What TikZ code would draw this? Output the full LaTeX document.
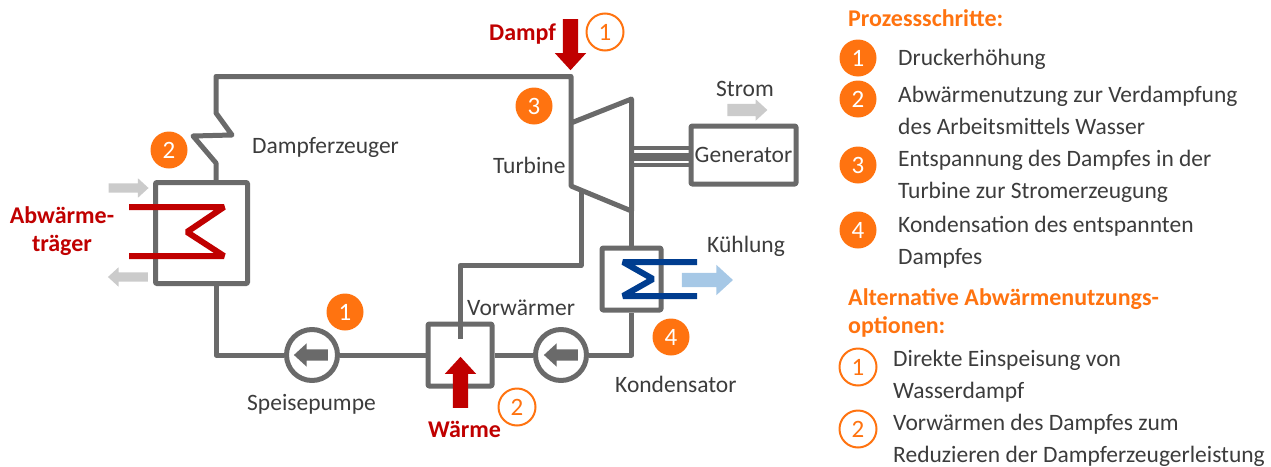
\documentclass[tikz,border=0pt]{standalone}
\usepackage{fontspec}
\setmainfont{Carlito}
\usetikzlibrary{shapes.arrows}
\definecolor{pipegray}{HTML}{6A6A6A}
\definecolor{lightflow}{HTML}{CBCBCB}
\definecolor{stepcolor}{HTML}{FF7310}
\definecolor{heatred}{HTML}{C00000}
\definecolor{coolblue}{HTML}{003D8F}
\definecolor{coolflow}{HTML}{A6C8E6}
\definecolor{labelgray}{HTML}{3C3C3C}
\tikzset{
  pipe/.style={draw=pipegray,line width=5pt,line join=round},
  apparat/.style={pipe,rectangle,rounded corners=1pt,inner sep=0pt},
  pumpe/.style={pipe,circle,inner sep=0pt,minimum size=51pt,fill=white},
  coil/.style={line width=6pt,line join=bevel},
  stepfill/.style={circle,fill=stepcolor,text=white,minimum size=37pt,inner sep=0pt,font=\fontsize{25}{25}\selectfont},
  stepopen/.style={circle,draw=stepcolor,line width=2pt,text=stepcolor,minimum size=37pt,inner sep=0pt,font=\fontsize{25}{25}\selectfont},
  lbl/.style={text=labelgray,inner sep=0pt,font=\fontsize{23.5}{32}\selectfont,align=left},
  lblred/.style={text=heatred,inner sep=0pt,font=\fontsize{24}{28}\selectfont\bfseries,align=center},
  head/.style={text=stepcolor,inner sep=0pt,anchor=west,font=\fontsize{24}{28}\selectfont\bfseries,align=left},
  flow/.style n args={3}{single arrow,draw=none,outer sep=0pt,inner sep=#2,minimum height=#1,
    single arrow head extend=#3,single arrow head indent=0pt,single arrow tip angle=85},
}
\begin{document}
\begin{tikzpicture}[x=1pt,y=-1pt]
  \useasboundingbox (0,0) rectangle (1271,466);

  \node[apparat,minimum width=92pt,minimum height=101pt] (erzeuger) at (201.5,233) {};
  \node[apparat,minimum width=64pt,minimum height=62pt] (vorw) at (460,355) {};
  \node[apparat,minimum width=59pt,minimum height=62pt] (kond) at (631.5,279) {};
  \node[apparat,minimum width=105pt,minimum height=58pt] (gen) at (743.5,155) {};
  \node[pumpe] (pumpe1) at (312,355) {};
  \node[pumpe] (pumpe2) at (561,355) {};

  \coordinate (eckoben) at (216,76.5);
  \coordinate (eintritt) at (571,76.5);
  \coordinate (eckunten) at (216,355);
  \coordinate (eckkond) at (631.5,355);
  \coordinate (t1) at (571,123);
  \coordinate (t2) at (631.5,99);
  \coordinate (t3) at (631.5,211);
  \coordinate (t4) at (571,186);
  \coordinate (abzw) at (581,190);
  \coordinate (ende) at (460,339);

  \draw[pipe] (erzeuger.north -| eckoben) -- (216,163) -- (193,136) -- (232,135) -- (216,113) -- (eckoben) -- (eintritt) -- (t4) -- (t3) -- (t2) -- (t1);
  \draw[pipe] (erzeuger.south -| eckunten) -- (eckunten) -- (pumpe1.west);
  \draw[pipe] (pumpe1.east) -- (vorw.west);
  \draw[pipe] (vorw.east) -- (pumpe2.west);
  \draw[pipe] (pumpe2.east) -- (eckkond) -- (kond.south);
  \draw[pipe] (kond.north) -- (t3);
  \draw[pipe] (abzw) |- (460,265.5) -- (ende);
  \draw[draw=pipegray,line width=4.5pt] (t2 |- 0,148) -- (gen.west |- 0,148);
  \draw[draw=pipegray,line width=8pt] (t2 |- 0,157) -- (gen.west |- 0,157);
  \draw[draw=pipegray,line width=4.5pt] (t2 |- 0,165) -- (gen.west |- 0,165);

  \draw[coil,heatred] (129,207) -- (224,207) -- (187,232) -- (224,256) -- (129,256);
  \draw[coil,coolblue] (697,262) -- (623,262) -- (653,279) -- (623,296) -- (697,296);

  \node[flow={34pt}{5.5pt}{6pt},fill=pipegray,shape border rotate=180] (pfeil1) at (314,355) {};
  \node[flow={34pt}{5.5pt}{6pt},fill=pipegray,shape border rotate=180] (pfeil2) at (564,355) {};
  \node[flow={51pt}{7.5pt}{8pt},fill=heatred,shape border rotate=270] (dampfin) at (570.5,40.5) {};
  \node[flow={51pt}{7.5pt}{8pt},fill=heatred,shape border rotate=90] (waermein) at (460.5,386.5) {};
  \node[flow={40pt}{4.5pt}{5pt},fill=lightflow] (abwin) at (126,188) {};
  \node[flow={40pt}{4.5pt}{5pt},fill=lightflow,shape border rotate=180] (abwout) at (130.5,277) {};
  \node[flow={40pt}{6pt}{4.5pt},fill=lightflow] (strompf) at (744,110) {};
  \node[flow={51pt}{7pt}{8pt},fill=coolflow] (kuehlpf) at (703.5,280) {};

  \node[stepfill] (sa) at (169,150) {2};
  \node[stepfill] (sb) at (534,106) {3};
  \node[stepfill] (sc) at (345,312) {1};
  \node[stepfill] (sd) at (671,337) {4};
  \node[stepopen] (oa) at (605,32) {1};
  \node[stepopen] (ob) at (517,407) {2};

  \node[lbl,anchor=west] (lerz) at (252,147) {Dampferzeuger};
  \node[lbl,anchor=west] (ltur) at (493,165) {Turbine};
  \node[lbl,anchor=west] (lstr) at (716,89) {Strom};
  \node[lbl] (lgen) at (gen) {Generator};
  \node[lbl,anchor=west] (lkue) at (707,246) {Kühlung};
  \node[lbl,anchor=west] (lvor) at (467,308) {Vorwärmer};
  \node[lbl,anchor=west] (lspe) at (247,404) {Speisepumpe};
  \node[lbl,anchor=west] (lkon) at (615,384) {Kondensator};
  \node[lblred] (labw) at (62,231) {Abwärme-\\träger};
  \node[lblred,anchor=west] (ldam) at (489,34) {Dampf};
  \node[lblred,anchor=west] (lwae) at (428,429) {Wärme};

  \node[head] (kopf1) at (848,18) {Prozessschritte:};
  \foreach \i/\y in {1/58,2/99,3/165,4/230} {
    \node[stepfill] (leg\i) at (858,\y) {\i};
  }
  \node[lbl,anchor=west] (txt1) at (898,59) {Druckerhöhung};
  \node[lbl,anchor=west] (txt2) at (898,110) {Abwärmenutzung zur Verdampfung\\des Arbeitsmittels Wasser};
  \node[lbl,anchor=west] (txt3) at (898,176) {Entspannung des Dampfes in der\\Turbine zur Stromerzeugung};
  \node[lbl,anchor=west] (txt4) at (898,242) {Kondensation des entspannten\\Dampfes};

  \node[head] (kopf2) at (848,313) {Alternative Abwärmenutzungs-\\optionen:};
  \foreach \i/\y in {1/367,2/429} {
    \node[stepopen] (opt\i) at (858,\y) {\i};
  }
  \node[lbl,anchor=west] (txt5) at (893,376) {Direkte Einspeisung von\\Wasserdampf};
  \node[lbl,anchor=west] (txt6) at (893,440) {Vorwärmen des Dampfes zum\\Reduzieren der Dampferzeugerleistung};
\end{tikzpicture}
\end{document}
